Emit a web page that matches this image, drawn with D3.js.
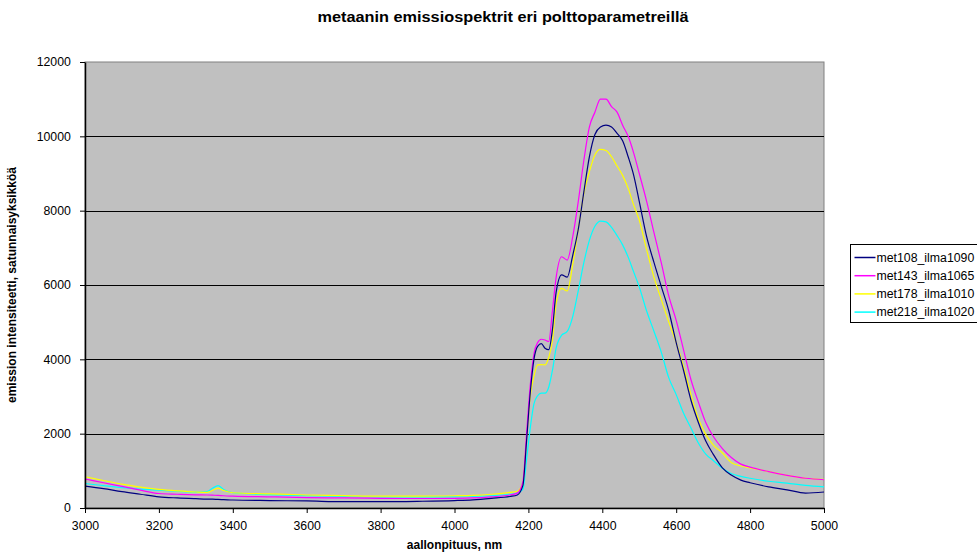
<!DOCTYPE html>
<html>
<head>
<meta charset="utf-8">
<script src="https://cdn.jsdelivr.net/npm/d3@7"></script>
<style>
  body { margin: 0; background: #fff; }
  svg text { font-family: "Liberation Sans", Arial, sans-serif; }
</style>
</head>
<body>
<div class="chart"></div>
<script>
// wavelengths (nm)
const wavelength = [3000, 3050, 3100, 3150, 3200, 3250, 3300, 3330, 3345, 3360, 3375, 3400, 3500, 3600, 3700, 3800, 3900, 4000, 4050, 4100, 4150, 4170, 4185, 4195, 4205, 4215, 4225, 4235, 4245, 4255, 4265, 4275, 4290, 4305, 4320, 4335, 4350, 4365, 4380, 4395, 4410, 4425, 4440, 4455, 4470, 4485, 4500, 4520, 4540, 4560, 4580, 4600, 4620, 4640, 4660, 4680, 4700, 4725, 4750, 4775, 4800, 4850, 4900, 4950, 5000];

const met108 = [590, 520, 440, 370, 300, 270, 250, 240, 240, 230, 225, 215, 200, 190, 170, 170, 180, 200, 220, 260, 310, 350, 600, 1800, 3100, 4000, 4350, 4420, 4300, 4260, 4800, 5800, 6270, 6210, 6800, 7500, 8500, 9450, 10050, 10250, 10300, 10250, 10080, 9880, 9450, 8950, 8250, 7300, 6600, 5950, 5300, 4450, 3700, 2900, 2300, 1800, 1450, 1080, 880, 750, 680, 570, 490, 400, 430];

const met143 = [780, 680, 580, 480, 390, 370, 355, 350, 345, 340, 330, 320, 300, 280, 270, 260, 255, 260, 270, 300, 350, 400, 700, 2000, 3300, 4150, 4450, 4540, 4520, 4480, 5300, 6200, 6760, 6670, 7300, 8250, 9350, 10250, 10650, 11000, 11000, 10800, 10650, 10300, 10000, 9550, 9000, 8250, 7400, 6580, 5700, 5050, 4250, 3450, 2850, 2300, 1930, 1600, 1350, 1180, 1100, 980, 880, 800, 760];

const met178 = [840, 740, 640, 560, 500, 460, 430, 420, 470, 530, 470, 410, 380, 350, 335, 320, 320, 330, 340, 370, 420, 450, 680, 1900, 3000, 3550, 3850, 3860, 3850, 4050, 4500, 5500, 5910, 5840, 6550, 7500, 8450, 9050, 9500, 9650, 9620, 9450, 9200, 8950, 8600, 8150, 7750, 6950, 6200, 5600, 5000, 4450, 3800, 3050, 2400, 1980, 1700, 1480, 1220, 1130, 1080, 980, 880, 800, 770];

const met218 = [660, 600, 550, 510, 480, 450, 425, 440, 530, 600, 500, 410, 360, 330, 310, 300, 300, 300, 310, 330, 370, 400, 500, 1300, 2150, 2800, 3020, 3090, 3090, 3250, 3700, 4300, 4650, 4750, 5150, 5850, 6600, 7200, 7580, 7720, 7700, 7550, 7330, 7080, 6750, 6350, 5950, 5300, 4750, 4180, 3500, 3050, 2550, 2150, 1750, 1450, 1280, 1070, 920, 850, 800, 720, 670, 610, 570];

const seriesNames = ["met108_ilma1090", "met143_ilma1065", "met178_ilma1010", "met218_ilma1020"];
const seriesColors = ["#000080", "#ff00ff", "#ffff00", "#00ffff"];
const xTicks = [3000, 3200, 3400, 3600, 3800, 4000, 4200, 4400, 4600, 4800, 5000];
const yTicks = [0, 2000, 4000, 6000, 8000, 10000, 12000];

const W = 977, H = 554;
const margin = { top: 62, right: 153, bottom: 46, left: 85 },
  width = W - margin.left - margin.right,
  height = H - margin.top - margin.bottom;

const svg = d3.select(".chart").append("svg")
  .attr("width", W).attr("height", H);

const g = svg.append("g")
  .attr("transform", `translate(${margin.left},${margin.top})`);

const x = d3.scaleLinear().domain([3000, 5000]).range([0, width]);
const y = d3.scaleLinear().domain([0, 12000]).range([height, 0]);

// plot background
g.append("rect")
  .attr("width", width).attr("height", height)
  .attr("fill", "#c0c0c0")
  .attr("stroke", "#808080").attr("stroke-width", 1);

// gridlines
g.append("g").selectAll("line")
  .data(yTicks.slice(1, -1))
  .join("line")
  .attr("x1", 0).attr("x2", width)
  .attr("y1", d => Math.round(y(d)) + 0.5).attr("y2", d => Math.round(y(d)) + 0.5)
  .attr("stroke", "#000").attr("stroke-width", 1);

const series = [met108, met143, met178, met218];

const line = d3.line()
  .x(d => x(d[0]))
  .y(d => y(d[1]))
  .curve(d3.curveMonotoneX);

// cyan first, navy last (on top)
const order = [3, 2, 1, 0];
order.forEach(i => {
  g.append("path")
    .datum(wavelength.map((w, j) => [w, series[i][j]]))
    .attr("fill", "none")
    .attr("stroke", seriesColors[i])
    .attr("stroke-width", 1.2)
    .attr("d", line);
});

// axes
const xAxis = d3.axisBottom(x).tickValues(xTicks).tickFormat(d3.format("d")).tickSize(5).tickSizeOuter(0);
const yAxis = d3.axisLeft(y).tickValues(yTicks).tickFormat(d3.format("d")).tickSize(5).tickSizeOuter(0);

const xg = g.append("g")
  .attr("transform", `translate(0,${height})`)
  .call(xAxis);
const yg = g.append("g").call(yAxis);

[xg, yg].forEach(a => {
  a.select(".domain").attr("stroke", "#000").attr("stroke-width", 1.5);
  a.selectAll(".tick line").attr("stroke", "#000");
  a.selectAll(".tick text")
    .attr("fill", "#000")
    .style("font-size", "12.3px")
    .style("font-family", '"Liberation Sans", Arial, sans-serif');
});
xg.selectAll(".tick text").attr("dy", "1.15em");
yg.selectAll(".tick text").attr("dx", "-0.5em");

// title (slightly wide lettering, as in the original)
svg.append("text")
  .attr("x", 503).attr("y", 22)
  .attr("text-anchor", "middle")
  .attr("textLength", 371)
  .attr("lengthAdjust", "spacingAndGlyphs")
  .style("font-size", "14.5px").style("font-weight", "bold")
  .text("metaanin emissiospektrit eri polttoparametreillä");

// axis titles
svg.append("text")
  .attr("x", margin.left + width / 2).attr("y", 549)
  .attr("text-anchor", "middle")
  .style("font-size", "12px").style("font-weight", "bold")
  .text("aallonpituus, nm");

svg.append("text")
  .attr("transform", `translate(16,${margin.top + height / 2}) rotate(-90)`)
  .attr("text-anchor", "middle")
  .style("font-size", "12px").style("font-weight", "bold")
  .text("emission intensiteetti, satunnaisyksikköä");

// legend
const legend = svg.append("g").attr("transform", "translate(850.5,244.5)");
legend.append("rect")
  .attr("width", 140).attr("height", 78)
  .attr("fill", "#fff").attr("stroke", "#000");

const items = legend.selectAll("g.item")
  .data(seriesNames)
  .join("g")
  .attr("class", "item")
  .attr("transform", (d, i) => `translate(0,${13 + i * 18.2})`);

items.append("line")
  .attr("x1", 4).attr("x2", 25)
  .attr("stroke", (d, i) => seriesColors[i])
  .attr("stroke-width", 1.5);

items.append("text")
  .attr("x", 26).attr("dy", "0.35em")
  .style("font-size", "12.3px")
  .text(d => d);
</script>
</body>
</html>
